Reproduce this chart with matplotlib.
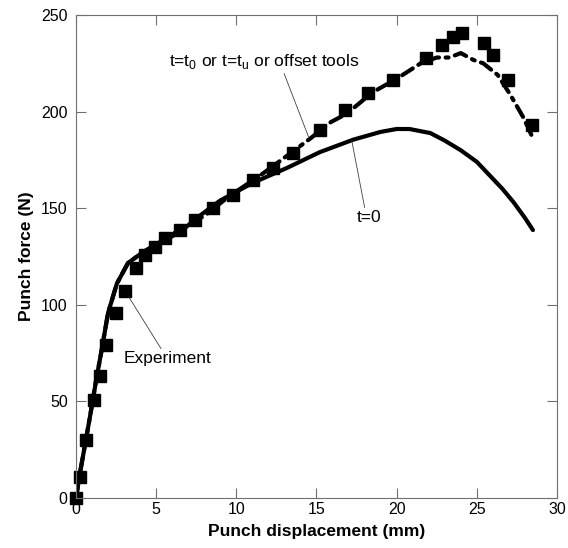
import numpy as np
import matplotlib.pyplot as plt

plt.rcParams['font.family'] = ['Liberation Sans', 'DejaVu Sans']

# experiment (square markers)
exp_d = [0, 0.25, 0.6, 1.1, 1.5, 1.9, 2.5, 3.05, 3.74, 4.3, 4.93, 5.55, 6.49, 7.42,
         8.55, 9.79, 11.04, 12.29, 13.54, 15.2, 16.8, 18.2, 19.8, 21.8, 22.8, 23.5,
         24.1, 25.45, 26.0, 26.95, 28.45]
exp_f = [0, 10.9, 30, 50.7, 63, 79, 96, 107, 119, 125.8, 129.9, 134.6, 138.7, 143.9,
         150.1, 156.8, 164.6, 170.8, 178.6, 190.5, 201, 209.6, 216.5, 227.7, 234.5, 238.6,
         240.7, 235.5, 229.3, 216.4, 193]

# t=t0 / t=tu / offset tools (dash-dot)
off_d = [0, 0.25, 0.87, 1.29, 1.6, 2.0, 2.55, 3.24, 4.18, 5.24, 6.5, 8.0, 9.6, 11.5,
         13.4, 14.6, 15.9, 16.9, 18.5, 20.0, 21.5, 22.5, 23.3, 24.0, 24.8, 25.4, 26.3,
         27.1, 27.9, 28.4]
off_f = [0, 13, 42, 62.6, 76.6, 95.8, 111, 121.6, 127.3, 132.5, 139, 146, 156.5, 167,
         178.6, 186, 194.6, 199, 210, 217, 225, 228, 228, 230.3, 226.7, 225, 219,
         208.6, 197, 188]

# t=0 (solid)
t0_d = [0, 0.25, 0.87, 1.29, 1.6, 2.0, 2.55, 3.24, 4.18, 5.24, 6.49, 7.7, 9.0, 11.0,
        13.2, 15.2, 17.3, 19.0, 20.0, 20.8, 22.1, 23.0, 24.0, 25.0, 25.8,
        26.6, 27.3, 28.0, 28.5]
t0_f = [0, 13, 42, 62.6, 76.6, 95.8, 111, 121.6, 127.3, 132, 137.7, 146, 154, 163,
        171, 179, 185.5, 189.5, 191, 191, 188.9, 185, 180, 174, 167,
        160, 153, 145, 138.7]

fig = plt.figure(figsize=(5.68, 5.48), dpi=100)
ax = fig.add_axes([0.1338, 0.0912, 0.8468, 0.8814])

ax.plot(t0_d, t0_f, color='black', lw=3, solid_capstyle='round')
ax.plot(off_d, off_f, color='black', lw=3, dashes=[3, 1.6, 0.7, 1.6],
        dash_capstyle='round')
ax.plot(exp_d, exp_f, 's', color='black', ms=8.5, clip_on=False)

ax.set_xlim(0, 30)
ax.set_ylim(0, 250)
ax.set_xticks(np.arange(0, 31, 5))
ax.set_yticks(np.arange(0, 251, 50))
ax.tick_params(direction='in', top=True, right=True, length=7, width=0.8,
               color='#707070', labelsize=11.5, pad=3)
ax.tick_params(axis='y', pad=6)
for s in ax.spines.values():
    s.set_color('#707070')
    s.set_linewidth(0.8)

ax.set_xlabel('Punch displacement (mm)', fontsize=12.5, fontweight='bold', labelpad=5)
ax.set_ylabel('Punch force (N)', fontsize=12.5, fontweight='bold', labelpad=5)

ax.annotate('t=t$_{\\mathregular{0}}$ or t=t$_{\\mathregular{u}}$ or offset tools',
            xy=(14.5, 187), xytext=(5.8, 226), fontsize=12.5, va='center',
            arrowprops=dict(arrowstyle='-', color='#404040', lw=0.6,
                            shrinkA=0, shrinkB=0, relpos=(0.6, 0)))
ax.annotate('t=0', xy=(17.2, 185), xytext=(17.5, 145), fontsize=12.5, va='center',
            arrowprops=dict(arrowstyle='-', color='#404040', lw=0.6,
                            shrinkA=0, shrinkB=0, relpos=(0.35, 1)))
ax.annotate('Experiment', xy=(3.3, 104), xytext=(2.95, 72), fontsize=12.5, va='center',
            arrowprops=dict(arrowstyle='-', color='#404040', lw=0.6,
                            shrinkA=0, shrinkB=0, relpos=(0.45, 1)))

fig.savefig('out.png', dpi=100)
